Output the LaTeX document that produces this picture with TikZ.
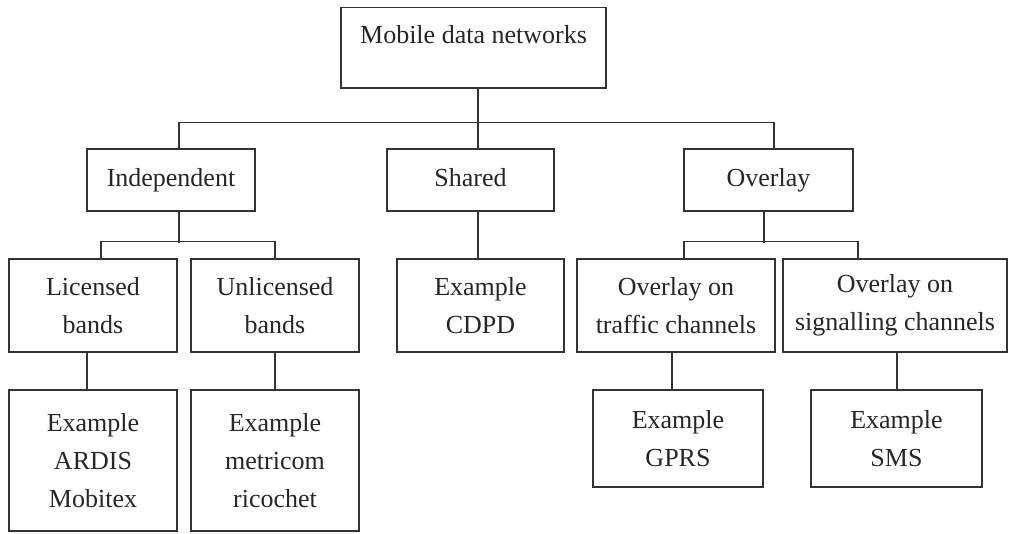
\documentclass[tikz,border=0pt]{standalone}
\usepackage{fontspec}
\setmainfont{Liberation Serif}
\begin{document}
\begin{tikzpicture}[x=1pt,y=-1pt,
  box/.style={draw=black!80, line width=1.4pt, rectangle, inner sep=0pt, align=center,
    text=black!85, font=\fontsize{26}{38}\selectfont},
  conn/.style={draw=black!80, line width=1.4pt}]
\useasboundingbox (0,0) rectangle (1009,533);
% level 1
\node[box, minimum width=265, minimum height=80.5] (top) at (473.5,47.75) {Mobile data networks\\[-12pt] \mbox{}};
% level 2
\node[box, minimum width=168, minimum height=62] (indep) at (171,180) {Independent\vphantom{y}};
\node[box, minimum width=167, minimum height=62] (shared) at (470.5,180) {Shared\vphantom{y}};
\node[box, minimum width=169, minimum height=62] (overlay) at (768.5,180) {Overlay};
% level 3
\node[box, minimum width=168, minimum height=93] (lic) at (93,305.5) {Licensed\\bands};
\node[box, minimum width=168, minimum height=93] (unlic) at (275,305.5) {Unlicensed\\bands};
\node[box, minimum width=167, minimum height=93] (cdpd) at (480.5,305.5) {Example\\CDPD};
\node[box, minimum width=198, minimum height=93] (traffic) at (676,305.5) {Overlay on\\traffic channels};
\node[box, minimum width=224, minimum height=93] (signal) at (895,305.5) {Overlay on\\signalling channels};
% level 4
\node[box, minimum width=168, minimum height=141] (ardis) at (93,460.5) {Example\\ARDIS\\Mobitex};
\node[box, minimum width=168, minimum height=141] (metri) at (275,460.5) {Example\\metricom\\ricochet};
\node[box, minimum width=170, minimum height=97] (gprs) at (678,438.5) {Example\\GPRS};
\node[box, minimum width=171, minimum height=97] (sms) at (896.5,438.5) {Example\\SMS};
% connectors
\draw[conn] ([xshift=4.5]top.south) -- ([xshift=7.5]shared.north);
\draw[conn] ([xshift=8]indep.north) -- ++(0,-26) -| ([xshift=5.5]overlay.north);
\draw[conn] ([xshift=8]indep.south) -- ++(0,31);
\draw[conn] ([xshift=8]lic.north) -- ++(0,-17) -| (unlic.north);
\draw[conn] ([xshift=7.5]shared.south) -- ([xshift=-2.5]cdpd.north);
\draw[conn] ([xshift=-4.5]overlay.south) -- ++(0,31);
\draw[conn] ([xshift=8]traffic.north) -- ++(0,-17) -| ([xshift=-37]signal.north);
\draw[conn] ([xshift=-6]lic.south) -- ([xshift=-6]ardis.north);
\draw[conn] (unlic.south) -- (metri.north);
\draw[conn] ([xshift=-4]traffic.south) -- ([xshift=-6]gprs.north);
\draw[conn] ([xshift=2]signal.south) -- ([xshift=0.5]sms.north);
\end{tikzpicture}
\end{document}
